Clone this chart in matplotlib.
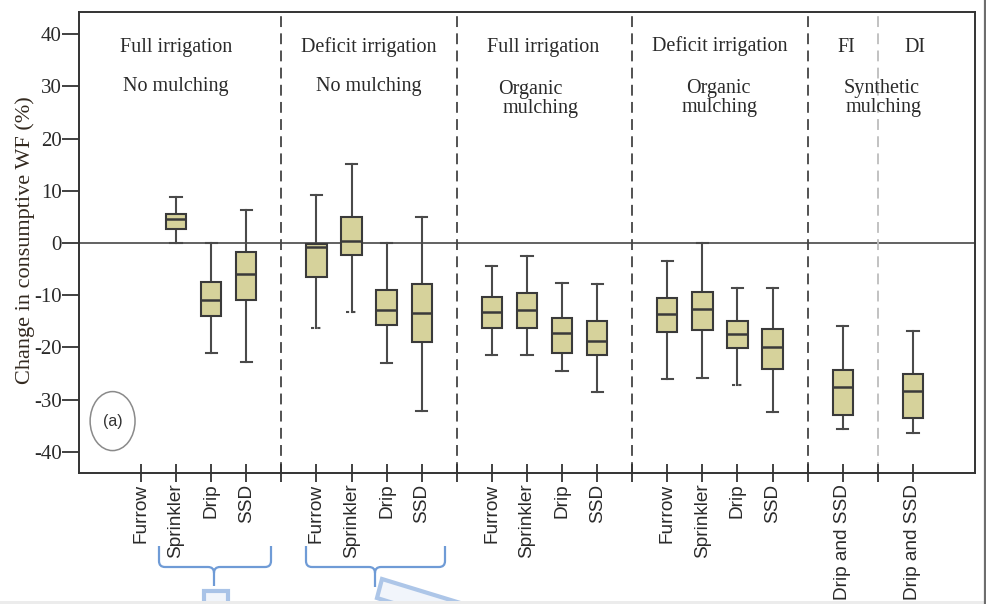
import matplotlib
matplotlib.use("Agg")
import matplotlib.pyplot as plt
from matplotlib.patches import Ellipse, Polygon, Rectangle, PathPatch
from matplotlib.path import Path
from matplotlib.lines import Line2D

# tick labels along the x axis (blank entries sit under the group separators)
tick_labels = ["Furrow", "Sprinkler", "Drip", "SSD", "",
               "Furrow", "Sprinkler", "Drip", "SSD", "",
               "Furrow", "Sprinkler", "Drip", "SSD", "",
               "Furrow", "Sprinkler", "Drip", "SSD", "",
               "Drip and SSD", "", "Drip and SSD"]

# box positions (furrow under full irrigation / no mulching has no data)
box_pos = [1, 2, 3, 5, 6, 7, 8, 10, 11, 12, 13, 15, 16, 17, 18, 20, 22]

# change in consumptive WF (%)
whis_hi = [8.8, 0.0, 6.3, 9.2, 15.1, 0.0, 5.0, -4.4, -2.4, -7.6, -7.9,
           -3.4, 0.0, -8.7, -8.7, -15.9, -16.8]
q3 = [5.6, -7.4, -1.7, -0.2, 4.9, -9.0, -7.9, -10.3, -9.5, -14.4, -14.9,
      -10.6, -9.4, -14.9, -16.5, -24.3, -25.0]
median = [4.6, -10.9, -6.0, -0.8, 0.45, -12.8, -13.4, -13.3, -12.8, -17.3, -18.7,
          -13.6, -12.6, -17.5, -19.9, -27.6, -28.4]
q1 = [2.7, -13.9, -10.9, -6.5, -2.2, -15.7, -19.0, -16.2, -16.3, -21.1, -21.5,
      -17.0, -16.7, -20.1, -24.2, -32.9, -33.6]
whis_lo = [0.0, -21.1, -22.7, -16.2, -13.2, -22.9, -32.1, -21.5, -21.5, -24.5, -28.5,
           -26.1, -25.8, -27.1, -32.4, -35.7, -36.3]

# group separators and the header text of each group
sep_dark = [4, 9, 14, 19]
sep_light = [21]
headers = [
    (1.0, 36.5, "Full irrigation"), (1.0, 29.1, "No mulching"),
    (6.5, 36.5, "Deficit irrigation"), (6.5, 29.1, "No mulching"),
    (11.45, 36.5, "Full irrigation"), (11.1, 28.5, "Organic"), (11.4, 24.9, "mulching"),
    (16.5, 36.7, "Deficit irrigation"), (16.45, 28.7, "Organic"), (16.5, 25.1, "mulching"),
    (20.1, 36.5, "FI"), (22.05, 36.5, "DI"),
    (21.1, 28.7, "Synthetic"), (21.15, 25.1, "mulching"),
]

W, H = 987, 604
fig = plt.figure(figsize=(W / 100, H / 100), dpi=100)
ax = fig.add_axes([79 / W, 1 - 473.3 / H, (975 - 79) / W, (473.3 - 12) / H])

serif = "Liberation Serif"
sans = "Liberation Sans"
ink = "#2a2a2a"

stats = []
for i in range(len(box_pos)):
    stats.append(dict(med=median[i], q1=q1[i], q3=q3[i],
                      whislo=whis_lo[i], whishi=whis_hi[i], fliers=[]))

ax.axhline(0, color="#555555", lw=1.3, zorder=1)

for x in sep_dark:
    ax.axvline(x, color="#444444", lw=1.3, ls=(0, (6, 3.5)), zorder=1)
for x in sep_light:
    ax.axvline(x, color="#bdbdbd", lw=1.3, ls=(0, (6, 3.5)), zorder=1)

art = ax.bxp(stats, positions=box_pos, widths=0.58, capwidths=0.32,
             patch_artist=True, showfliers=False,
             boxprops=dict(facecolor="#d6d29b", edgecolor="#3a3a3a", lw=1.5),
             medianprops=dict(color="#3a3a3a", lw=1.8),
             whiskerprops=dict(color="#4a4a4a", lw=1.5),
             capprops=dict(color="#4a4a4a", lw=1.5))
for b in art["boxes"]:
    b.set_zorder(3)
for m in art["medians"]:
    m.set_zorder(4)

# a few lower caps are printed dotted
for i in [3, 4, 13]:
    art["caps"][2 * i].set_linestyle((0, (1.5, 1.5)))

ax.set_xlim(-1.767, 23.77)
ax.set_ylim(-44.1, 44.25)

ax.set_xticks(range(len(tick_labels)))
ax.set_xticklabels(tick_labels, rotation=90, family=sans, fontsize=13.7,
                   color=ink, va="top", ha="center")
ax.tick_params(axis="x", direction="inout", length=13, width=1.3,
               color="#333333", pad=1)

ax.set_yticks(range(-40, 41, 10))
ax.set_yticklabels([str(v) for v in range(-40, 41, 10)], family=serif,
                   fontsize=15, color=ink)
ax.tick_params(axis="y", direction="out", length=12, width=1.3,
               color="#333333", pad=0.5)

for s in ax.spines.values():
    s.set_color("#333333")
    s.set_linewidth(1.4)

ax.set_ylabel("Change in consumptive WF (%)", family=serif, fontsize=16,
              color="#33291f", va="center")
ax.yaxis.set_label_coords((25 - 79) / (975 - 79), 0.505)

for x, y, s in headers:
    ax.text(x, y, s, ha="center", va="baseline", family=serif,
            fontsize=14.5, color=ink)

ax.add_patch(Ellipse((-0.81, -34.1), 1.28, 11.3, fill=False,
                     edgecolor="#8a8a8a", lw=1.1))
ax.text(-0.81, -34.1, "(a)", ha="center", va="center", family=sans,
        fontsize=11.5, color="#333333")


# overlay drawn in pixel space below the axes
def px(x, y):
    return (x / W, 1 - y / H)


def brace(x0, x1, xm, ytop, ybar, ytip, r=6):
    verts = [px(x0, ytop), px(x0, ybar - r), px(x0, ybar), px(x0 + r, ybar),
             px(xm - r, ybar), px(xm, ybar), px(xm, ybar + r), px(xm, ytip),
             px(xm, ybar + r), px(xm, ybar), px(xm + r, ybar),
             px(x1 - r, ybar), px(x1, ybar), px(x1, ybar - r), px(x1, ytop)]
    codes = [Path.MOVETO, Path.LINETO, Path.CURVE3, Path.CURVE3,
             Path.LINETO, Path.CURVE3, Path.CURVE3, Path.LINETO,
             Path.MOVETO, Path.CURVE3, Path.CURVE3,
             Path.LINETO, Path.CURVE3, Path.CURVE3, Path.LINETO]
    fig.patches.append(PathPatch(Path(verts, codes), fill=False,
                                 edgecolor="#6f9bd6", lw=1.6,
                                 transform=fig.transFigure))


brace(159, 271, 214, 546, 567, 586)
brace(306, 445, 375, 546, 567, 587)

fig.patches.append(Rectangle(px(204, 612), 24 / W, 21 / H, transform=fig.transFigure,
                             facecolor="#f1f5fb", edgecolor="#a9c3e7", lw=3))
fig.patches.append(Polygon([px(382, 579), px(480, 609), px(474, 628), px(377, 598)],
                           closed=True, transform=fig.transFigure,
                           facecolor="#f1f5fb", edgecolor="#adc6e8", lw=3))

fig.patches.append(Rectangle(px(0, 604), 1, 3.5 / H, transform=fig.transFigure,
                             facecolor="#ececec", edgecolor="none"))
fig.lines.append(Line2D([985 / W, 985 / W], [0, 1], transform=fig.transFigure,
                        color="#6e6e6e", lw=1.6))

fig.savefig("out.png", dpi=100)
